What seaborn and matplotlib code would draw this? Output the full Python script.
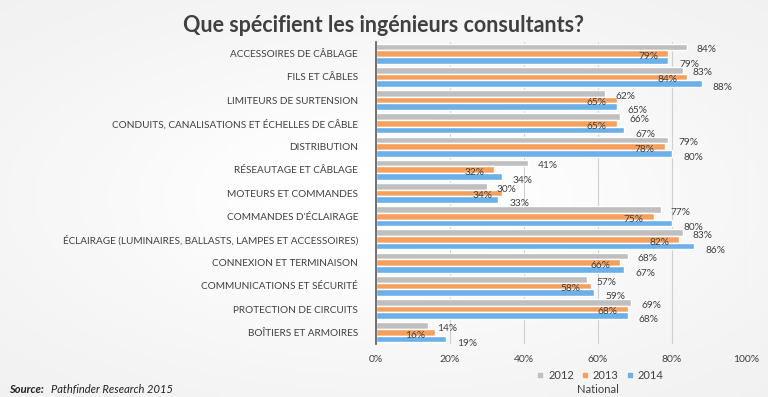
import numpy as np
import pandas as pd
import matplotlib
matplotlib.use("Agg")
import matplotlib.pyplot as plt
from matplotlib.lines import Line2D
import seaborn as sns

categories = [
    "ACCESSOIRES DE CÂBLAGE",
    "FILS ET CÂBLES",
    "LIMITEURS DE SURTENSION",
    "CONDUITS, CANALISATIONS ET ÉCHELLES DE CÂBLE",
    "DISTRIBUTION",
    "RÉSEAUTAGE ET CÂBLAGE",
    "MOTEURS ET COMMANDES",
    "COMMANDES D'ÉCLAIRAGE",
    "ÉCLAIRAGE (LUMINAIRES, BALLASTS, LAMPES ET ACCESSOIRES)",
    "CONNEXION ET TERMINAISON",
    "COMMUNICATIONS ET SÉCURITÉ",
    "PROTECTION DE CIRCUITS",
    "BOÎTIERS ET ARMOIRES",
]
years = ["2012", "2013", "2014"]
v2012 = [84, 83, 62, 66, 79, 41, 30, 77, 83, 68, 57, 69, 14]
v2013 = [79, 84, 65, 65, 78, 32, 34, 75, 82, 66, 58, 68, 16]
v2014 = [79, 88, 65, 67, 80, 34, 33, 80, 86, 67, 59, 68, 19]
colors = ["#bfbfbf", "#f6a05e", "#6cb0e8"]

df = pd.DataFrame({
    "cat": categories * 3,
    "year": [y for y in years for _ in categories],
    "val": v2012 + v2013 + v2014,
})

txt = "#404040"
sns.set_style("white")
plt.rcParams["font.family"] = ["Lato", "DejaVu Sans"]

fig = plt.figure(figsize=(7.68, 3.97), dpi=100)
fig.patch.set_facecolor("#ededed")

# soft background glow
bg = fig.add_axes([0, 0, 1, 1], zorder=-1)
gx, gy = np.meshgrid(np.linspace(-1, 1, 200), np.linspace(-1, 1, 100))
glow = np.exp(-(gx ** 2 * 1.0 + gy ** 2 * 1.2))
bg.imshow(glow, cmap="Greys_r", vmin=-7, vmax=1.0, aspect="auto", extent=[0, 1, 0, 1])
bg.axis("off")

ax = fig.add_axes([0.4896, 0.1335, 0.4818, 0.7607])
ax.set_facecolor("none")
sns.barplot(data=df, y="cat", x="val", hue="year", palette=colors, orient="h",
            width=0.86, ax=ax, legend=False, saturation=1)

ax.set_xlim(0, 100)
ax.set_xticks(range(0, 101, 20))
ax.set_xticklabels([f"{t}%" for t in range(0, 101, 20)])
ax.grid(axis="x", color="#d0d0d0", linewidth=0.8)
ax.set_axisbelow(True)
ax.set_xlabel("")
ax.set_ylabel("")
for s in ["top", "right", "bottom"]:
    ax.spines[s].set_visible(False)
ax.spines["left"].set_color("#595959")
ax.spines["left"].set_linewidth(1.2)
ax.tick_params(axis="both", length=0, labelcolor=txt)
ax.tick_params(axis="y", pad=13, labelsize=7.2)
ax.tick_params(axis="x", pad=8, labelsize=7.5)

# value labels, offset like the original
offsets = [(7, -2, "left"), (-7, -2, "right"), (8, -3, "left")]
for cont, (dx, dy, ha) in zip(ax.containers, offsets):
    for bar in cont:
        w = bar.get_width()
        yc = bar.get_y() + bar.get_height() / 2
        ax.annotate(f"{w:.0f}%", (w, yc), xytext=(dx, dy), textcoords="offset points",
                    ha=ha, va="center", fontsize=7.3, color=txt)

fig.text(0.499, 0.935, "Que spécifient les ingénieurs consultants?", ha="center", va="center",
         fontsize=15.5, fontweight="bold", color=txt)

handles = [Line2D([], [], marker="s", linestyle="none", markersize=3.5, color=c) for c in colors]
fig.legend(handles, years, loc="center", bbox_to_anchor=(0.78, 0.055), ncol=3, frameon=False,
           fontsize=8, handletextpad=0.2, columnspacing=0.5, handlelength=1.0, labelcolor=txt)
fig.text(0.778, 0.018, "National", ha="center", va="center", fontsize=8, color=txt)

fig.text(0.012, 0.02, "Source:", ha="left", va="center", fontsize=8, fontweight="bold",
         fontstyle="italic", color="#222222")
fig.text(0.067, 0.02, "Pathfinder Research 2015", ha="left", va="center", fontsize=8,
         fontstyle="italic", color="#222222")

fig.savefig("out.png", dpi=100, facecolor=fig.get_facecolor())
